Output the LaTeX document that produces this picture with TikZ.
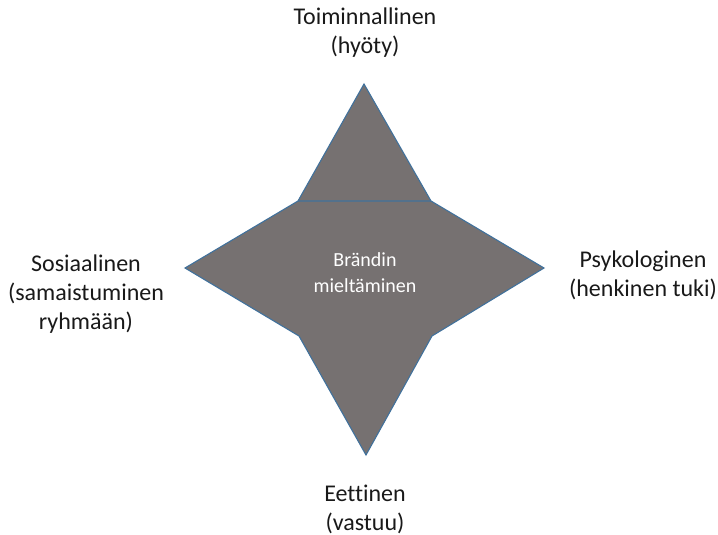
\documentclass[tikz,border=0pt]{standalone}
\usepackage{fontspec}
\setmainfont{Carlito}[Ligatures=NoCommon]
\usetikzlibrary{math}
\definecolor{sgray}{RGB}{118,113,113}
\definecolor{sblue}{RGB}{65,113,156}

\begin{document}
\begin{tikzpicture}[x=1pt,y=-1pt,
  facet/.style={align=center,font=\fontsize{24}{29}\selectfont,text=black!90},
  core/.style={align=center,font=\fontsize{20}{26}\selectfont,text=white}]
\tikzmath{
\cx=365;
\cy=268;
}
\useasboundingbox (0,0) rectangle (718,535);

%corners of the star
 \coordinate (tipn) at (364,84);
 \coordinate (tips) at (366,455);
 \coordinate (tipw) at (185,\cy);
 \coordinate (tipe) at (544,\cy);
 \coordinate (nw) at (298,201);
 \coordinate (ne) at (431,201);
 \coordinate (sw) at (299,336);
 \coordinate (se) at (432,336);

%filled star
 \fill[sgray] (tipn) -- (ne) -- (tipe) -- (se) -- (tips) -- (sw) -- (tipw) -- (nw) -- cycle;
%outlines
 \draw[sblue, line width=1.1] (nw) -- (tipw) -- (sw);
 \draw[sblue, line width=1.1] (ne) -- (tipe) -- (se);
 \draw[sblue, line width=1.1] (sw) -- (tips) -- (se);
 \draw[sblue, line width=1.1] (nw) -- (tipn) -- (ne) -- cycle;

 \node[core] (brand) at (\cx,273) {Brändin\\mieltäminen};

%the four sides
 \node[facet] (func) at (\cx,33) {Toiminnallinen\\(hyöty)};
 \node[facet] (psyc) at (643,275) {Psykologinen\\(henkinen tuki)};
 \node[facet] (ethic) at (\cx,509) {Eettinen\\(vastuu)};
 \node[facet] (social) at (86,294) {Sosiaalinen\\(samaistuminen\\ryhmään)};
\end{tikzpicture}
\end{document}
